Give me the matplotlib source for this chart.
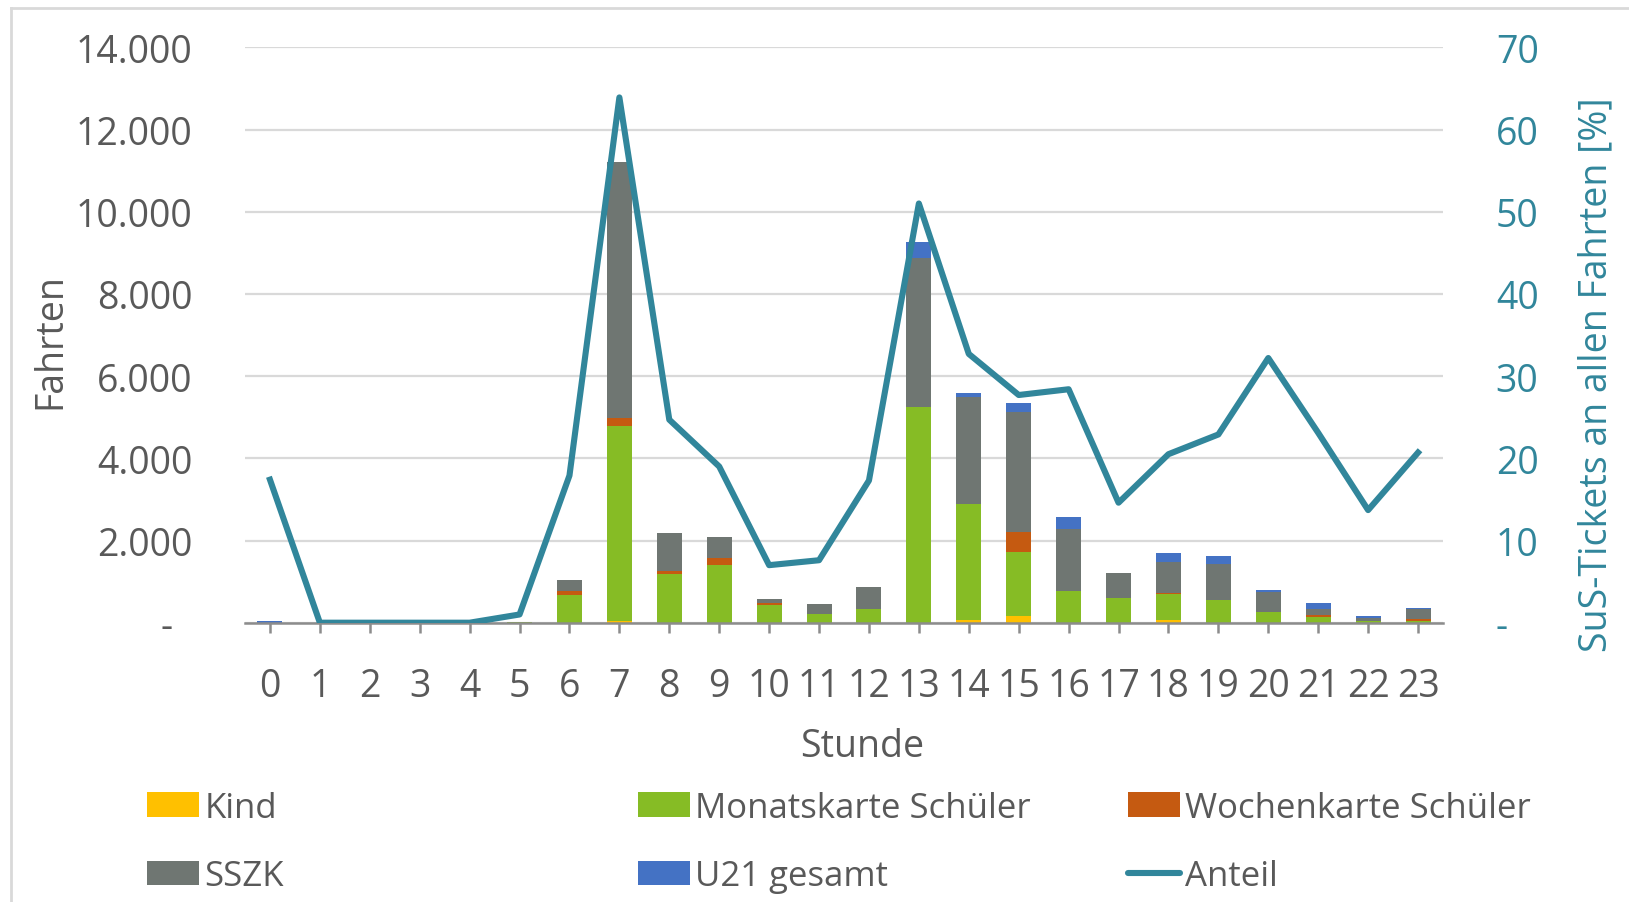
import matplotlib
matplotlib.use("Agg")
import matplotlib.pyplot as plt
import numpy as np
from matplotlib.patches import Patch
from matplotlib.lines import Line2D

plt.rcParams['font.family'] = ['Open Sans', 'DejaVu Sans']

# data
stunden = list(range(24))
kind = [0, 0, 0, 0, 0, 0, 0, 40, 0, 0, 0, 0, 0, 0, 65, 164, 0, 0, 65, 0, 0, 0, 0, 0]
monatskarte = [0, 0, 0, 0, 0, 5, 680, 4740, 1190, 1400, 425, 212, 328, 5256, 2820, 1549,
               770, 607, 640, 541, 262, 148, 49, 49]
wochenkarte = [0, 0, 0, 0, 0, 0, 100, 194, 65, 163, 50, 0, 0, 0, 0, 500,
               0, 0, 25, 0, 0, 32, 0, 33]
sszk = [0, 0, 0, 0, 0, 5, 260, 6229, 939, 531, 90, 253, 541, 3610, 2607, 2902,
        1509, 606, 738, 877, 476, 148, 66, 246]
u21 = [50, 0, 0, 0, 0, 0, 0, 0, 0, 0, 0, 0, 0, 404, 106, 229,
       287, 0, 221, 197, 57, 147, 49, 24]
anteil = [17.4, 0, 0, 0, 0, 1.0, 17.9, 63.9, 24.7, 19.0, 7.0, 7.6, 17.3, 51.0, 32.7, 27.7,
          28.4, 14.6, 20.5, 22.9, 32.2, 23.1, 13.7, 20.7]

serien = [("Kind", kind, "#FFC000"),
          ("Monatskarte Schüler", monatskarte, "#86BC25"),
          ("Wochenkarte Schüler", wochenkarte, "#C55A11"),
          ("SSZK", sszk, "#6F7672"),
          ("U21 gesamt", u21, "#4472C4")]
linie_farbe = "#31869B"
text_grau = "#595959"

W, H = 1629, 903
fig = plt.figure(figsize=(W / 100, H / 100), dpi=100)
ax = fig.add_axes([245 / W, 1 - 623.7 / H, 1198 / W, 575.4 / H])

x = np.arange(len(stunden))
unten = np.zeros(len(stunden))
for name, werte, farbe in serien:
    ax.bar(x, werte, width=0.5, bottom=unten, color=farbe, zorder=2)
    unten += np.array(werte)

ax.set_xlim(-0.5, 23.5)
ax.set_ylim(0, 14000)
ax.set_yticks(range(0, 14001, 2000))
ax.set_yticklabels(["-  "] + [f"{v:,}".replace(",", ".") for v in range(2000, 14001, 2000)])
ax.set_xticks(x)
ax.set_xticklabels([str(s) for s in stunden])
ax.grid(axis='y', color='#D9D9D9', lw=1.6, zorder=0)
for s in ['left', 'right', 'top']:
    ax.spines[s].set_visible(False)
ax.spines['bottom'].set_color('#8C8C8C')
ax.spines['bottom'].set_linewidth(1.8)
ax.spines['bottom'].set_zorder(3)
ax.tick_params(axis='x', direction='out', length=7, width=1.8, color='#8C8C8C',
               labelsize=27, labelcolor=text_grau, pad=25)
ax.tick_params(axis='y', length=0, labelsize=27, labelcolor=text_grau, pad=38)

ax2 = ax.twinx()
ax2.plot(x, anteil, color=linie_farbe, lw=4.4, zorder=5)
ax2.set_ylim(0, 70)
ax2.set_yticks(range(0, 71, 10))
ax2.set_yticklabels(["-"] + [str(v) for v in range(10, 71, 10)])
for s in ax2.spines.values():
    s.set_visible(False)
ax2.tick_params(axis='y', length=0, labelsize=27, labelcolor=linie_farbe, pad=38)

fig.text(50 / W, 1 - 341 / H, "Fahrten", rotation=90, ha='center', va='center',
         fontsize=27, color=text_grau)
fig.text(1596 / W, 1 - 375 / H, "SuS-Tickets an allen Fahrten [%]", rotation=90,
         ha='center', va='center', fontsize=27, color=linie_farbe)
fig.text(862 / W, 1 - 757 / H, "Stunde", ha='center', va='baseline',
         fontsize=27, color=text_grau)

# legend: three columns, two rows
handles = [Patch(facecolor=f, label=n) for n, _, f in serien]
handles.append(Line2D([0], [0], color=linie_farbe, lw=4.4, solid_capstyle='round', label="Anteil"))
spalten = [(handles[0], handles[3]), (handles[1], handles[4]), (handles[2], handles[5])]
for xpos, paar in zip([147, 638, 1128], spalten):
    fig.legend(handles=list(paar), loc='center left', bbox_to_anchor=(xpos / W, 1 - 843 / H),
               frameon=False, fontsize=25, labelcolor=text_grau, borderpad=0,
               borderaxespad=0, handlelength=1.5, handleheight=0.7,
               handletextpad=0.15, labelspacing=1.0)

# chart border (top and left visible)
fig.add_artist(Line2D([11 / W, 11 / W], [0, 1 - 9 / H], color='#D9D9D9', lw=2))
fig.add_artist(Line2D([11 / W, 1], [1 - 9 / H, 1 - 9 / H], color='#D9D9D9', lw=2))

fig.savefig("out.png", dpi=100)
